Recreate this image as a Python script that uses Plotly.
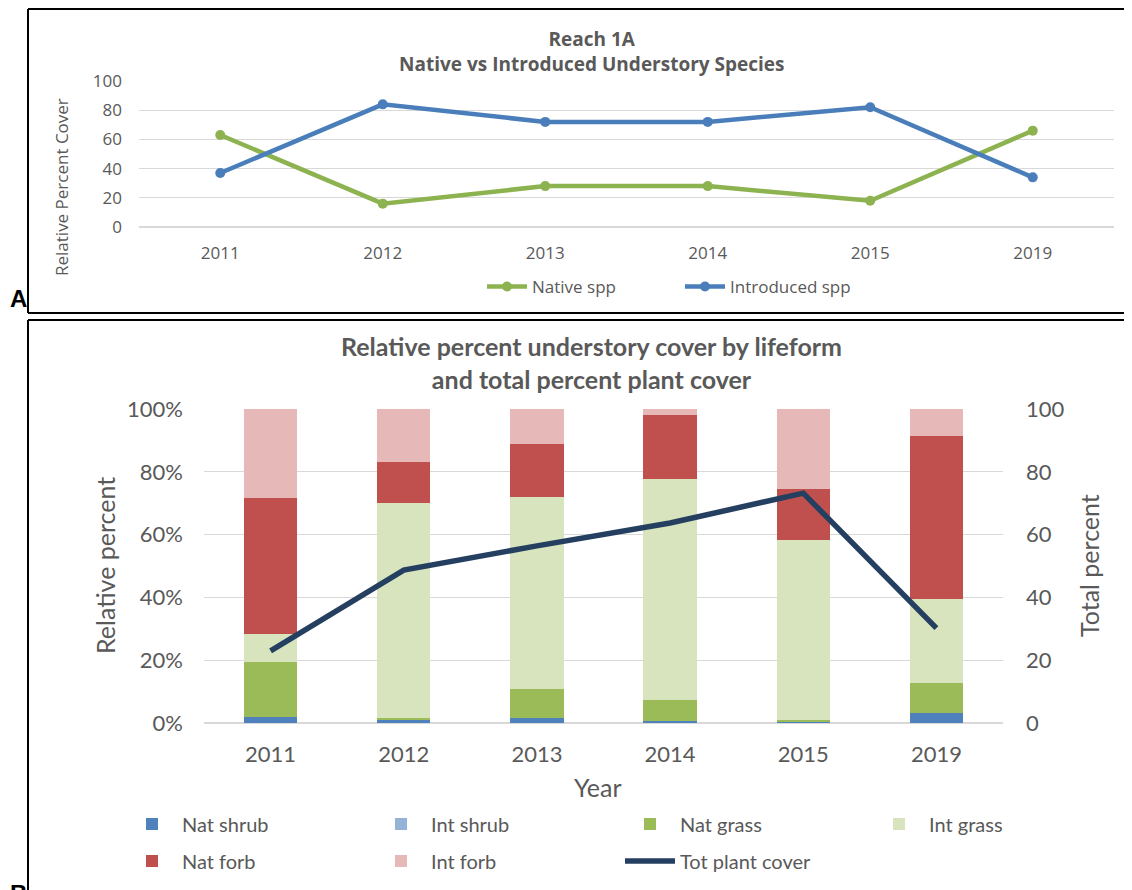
import plotly.graph_objects as go

years = ["2011", "2012", "2013", "2014", "2015", "2019"]

# panel A - relative cover, native vs introduced
native = [63, 16, 28, 28, 18, 66]
introduced = [37, 84, 72, 72, 82, 34]

# panel B - relative percent by lifeform (stacked, bottom to top)
nat_shrub = [2.0, 0.8, 1.5, 0.5, 0.3, 3.2]
int_shrub = [0, 0, 0, 0, 0, 0]
nat_grass = [17.5, 0.8, 9.3, 6.8, 0.7, 9.6]
int_grass = [9.0, 68.4, 61.2, 70.4, 57.3, 26.7]
nat_forb = [43.1, 13.1, 16.9, 20.4, 16.3, 51.9]
int_forb = [28.4, 16.9, 11.1, 1.9, 25.4, 8.6]
tot_cover = [23, 48.7, 56.4, 63.7, 73.2, 30.2]

W, H = 1132, 890
OFF = 8  # page body margin
GRAY = "#595959"
GRID = "#d9d9d9"


def px(x):
    return (x - OFF) / W


def py(y):
    return 1 - (y - OFF) / H


fig = go.Figure()

# ---- panel A ----
fig.add_trace(go.Scatter(x=years, y=native, name="Native spp", mode="lines+markers",
                         line=dict(color="#8db350", width=4.5), marker=dict(size=10),
                         xaxis="x", yaxis="y", legend="legend"))
fig.add_trace(go.Scatter(x=years, y=introduced, name="Introduced spp", mode="lines+markers",
                         line=dict(color="#4a7ebb", width=4.5), marker=dict(size=10),
                         xaxis="x", yaxis="y", legend="legend"))

# ---- panel B ----
bars = [("Nat shrub", nat_shrub, "#4f81bd", "legend2"),
        ("Int shrub", int_shrub, "#95b3d7", "legend2"),
        ("Nat grass", nat_grass, "#9bbb59", "legend2"),
        ("Int grass", int_grass, "#d7e4bd", "legend2"),
        ("Nat forb", nat_forb, "#c0504d", "legend3"),
        ("Int forb", int_forb, "#e6b9b8", "legend3")]
for name, vals, col, leg in bars:
    fig.add_trace(go.Bar(x=years, y=[v / 100 for v in vals], name=name, marker_color=col,
                         marker_line_width=0, xaxis="x2", yaxis="y2", legend=leg))
fig.add_trace(go.Scatter(x=years, y=tot_cover, name="Tot plant cover", mode="lines",
                         line=dict(color="#243f60", width=5.5), xaxis="x2", yaxis="y3",
                         legend="legend3"))

fontA = "Open Sans"
fontB = "Lato"

legB = dict(orientation="h", xanchor="left", yanchor="middle", traceorder="normal",
            entrywidth=184, entrywidthmode="pixels", itemwidth=50,
            font=dict(family=fontB, size=20, color=GRAY), bgcolor="rgba(0,0,0,0)")

fig.update_layout(
    width=W, height=H, margin=dict(l=0, r=0, t=0, b=0, autoexpand=False),
    paper_bgcolor="white", plot_bgcolor="white",
    barmode="stack", bargap=0.6,
    xaxis=dict(domain=[px(139), px(1114)], anchor="y", type="category",
               range=[-0.5, 5.5], showgrid=False, showline=False, ticks="",
               ticklabelstandoff=14, automargin=False,
               tickfont=dict(family=fontA, size=17, color=GRAY)),
    yaxis=dict(domain=[py(227), py(81)], anchor="x", range=[0, 100], dtick=20,
               gridcolor=GRID, zerolinecolor=GRID, showline=False,
               ticklabelstandoff=16, automargin=False,
               tickfont=dict(family=fontA, size=17, color=GRAY)),
    xaxis2=dict(domain=[px(204), px(1003)], anchor="y2", type="category",
                range=[-0.5, 5.5], showgrid=False, showline=False, ticks="",
                ticklabelstandoff=16, automargin=False,
                tickfont=dict(family=fontB, size=22, color=GRAY)),
    yaxis2=dict(domain=[py(723), py(409)], anchor="x2", range=[0, 1], dtick=0.2,
                tickformat=".0%", gridcolor=GRID, zerolinecolor=GRID, showline=False,
                ticklabelstandoff=20, automargin=False,
                tickfont=dict(family=fontB, size=22, color=GRAY)),
    yaxis3=dict(overlaying="y2", side="right", anchor="x2", range=[0, 100], dtick=20,
                showgrid=False, zeroline=False, showline=False,
                ticklabelstandoff=22, automargin=False,
                tickfont=dict(family=fontB, size=22, color=GRAY)),
    legend=dict(orientation="h", x=px(482), y=py(287), xanchor="left", yanchor="middle",
                traceorder="normal", itemwidth=40, entrywidth=143, entrywidthmode="pixels",
                font=dict(family=fontA, size=17, color=GRAY), bgcolor="rgba(0,0,0,0)"),
    legend2=dict(legB, x=px(122), y=py(824)),
    legend3=dict(legB, x=px(122), y=py(861)),
    showlegend=True,
)

# axis titles as free text so they sit exactly where the reference has them
centered = dict(xref="paper", yref="paper", showarrow=False, xanchor="center", yanchor="middle")
fig.add_annotation(x=px(61), y=py(187), text="Relative Percent Cover", textangle=-90,
                   font=dict(family=fontA, size=17, color=GRAY), **centered)
fig.add_annotation(x=px(105), y=py(566), text="Relative percent", textangle=-90,
                   font=dict(family=fontB, size=25, color=GRAY), **centered)
fig.add_annotation(x=px(1089), y=py(566), text="Total percent", textangle=-90,
                   font=dict(family=fontB, size=25, color=GRAY), **centered)
fig.add_annotation(x=px(598), y=py(787), text="Year",
                   font=dict(family=fontB, size=25, color=GRAY), **centered)

# titles
fig.add_annotation(x=px(592), y=py(51),
                   text="<b>Reach 1A</b><br><b>Native vs Introduced Understory Species</b>",
                   font=dict(family=fontA, size=19, color=GRAY), align="center", **centered)
fig.add_annotation(x=px(591), y=py(362),
                   text="<b>Relative percent understory cover by lifeform</b><br>"
                        "<b>and total percent plant cover</b>",
                   font=dict(family=fontB, size=25, color=GRAY), align="center", **centered)

# panel labels
fig.add_annotation(x=px(8), y=py(314), xref="paper", yref="paper", text="<b>A</b>",
                   showarrow=False, xanchor="left", yanchor="bottom",
                   font=dict(family="Liberation Sans", size=24, color="black"))
fig.add_annotation(x=px(8), y=py(878), xref="paper", yref="paper", text="<b>B</b>",
                   showarrow=False, xanchor="left", yanchor="top",
                   font=dict(family="Liberation Sans", size=24, color="black"))

# panel frames (left + top + bottom edges)
frame = dict(color="black", width=2)
fig.add_shape(type="line", xref="paper", yref="paper", x0=px(28), x1=1.0, y0=py(9), y1=py(9), line=frame)
fig.add_shape(type="line", xref="paper", yref="paper", x0=px(28), x1=px(28), y0=py(9), y1=py(313), line=frame)
fig.add_shape(type="line", xref="paper", yref="paper", x0=px(28), x1=1.0, y0=py(313), y1=py(313), line=frame)
fig.add_shape(type="line", xref="paper", yref="paper", x0=px(28), x1=1.0, y0=py(320), y1=py(320), line=frame)
fig.add_shape(type="line", xref="paper", yref="paper", x0=px(28), x1=px(28), y0=py(320), y1=0, line=frame)

fig.write_html("out.html")
